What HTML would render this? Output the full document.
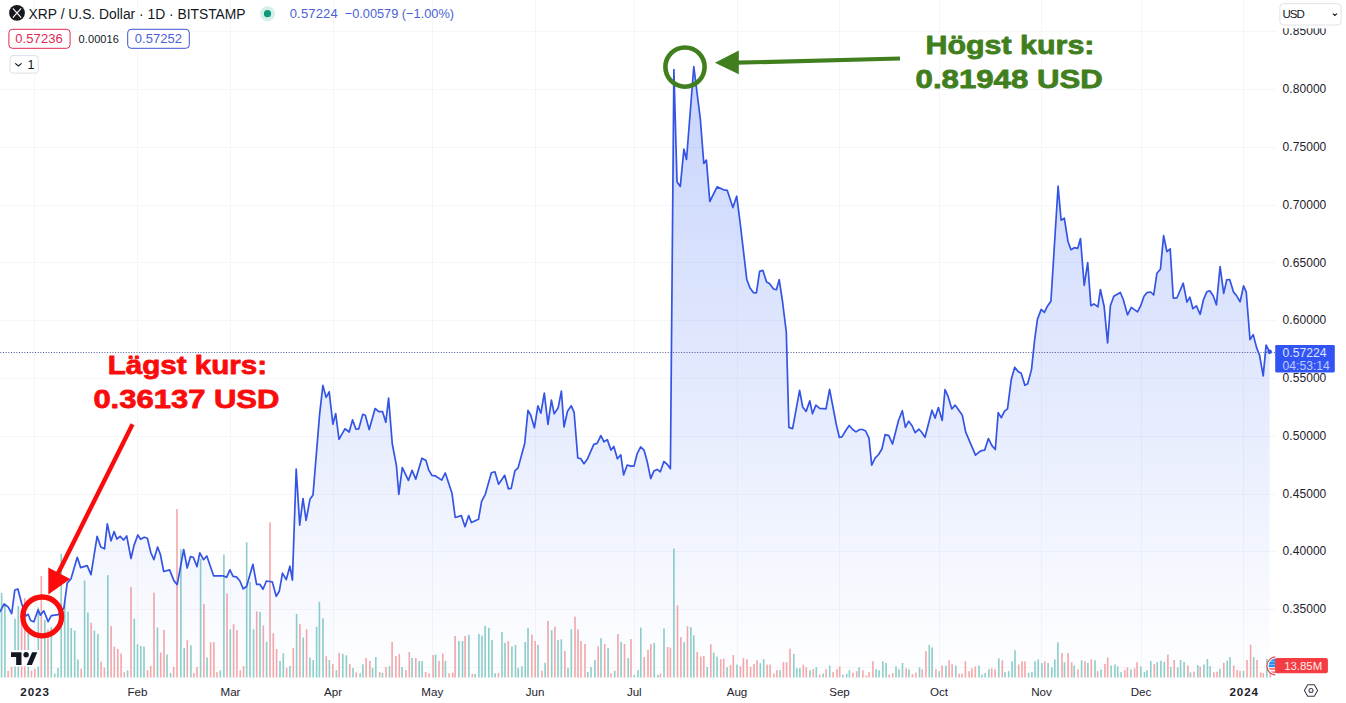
<!DOCTYPE html>
<html><head><meta charset="utf-8"><title>XRP / U.S. Dollar</title>
<style>
html,body{margin:0;padding:0;background:#fff;}
body{width:1346px;height:703px;overflow:hidden;position:relative;font-family:"Liberation Sans",sans-serif;}
svg{position:absolute;left:0;top:0;}
svg text{font-family:"Liberation Sans",sans-serif;}
</style></head><body>
<svg width="1346" height="703" viewBox="0 0 1346 703">
<defs>
<linearGradient id="ag" gradientUnits="userSpaceOnUse" x1="0" y1="60" x2="0" y2="681">
<stop offset="0" stop-color="#2c5cf4" stop-opacity="0.27"/>
<stop offset="1" stop-color="#2c5cf4" stop-opacity="0.0"/>
</linearGradient>
</defs>
<rect width="1346" height="703" fill="#fff"/>
<g stroke="#f5f6fa" stroke-width="1" shape-rendering="crispEdges">
<line x1="34.6" y1="0" x2="34.6" y2="677.5"/>
<line x1="137.5" y1="0" x2="137.5" y2="677.5"/>
<line x1="230.5" y1="0" x2="230.5" y2="677.5"/>
<line x1="333" y1="0" x2="333" y2="677.5"/>
<line x1="432.3" y1="0" x2="432.3" y2="677.5"/>
<line x1="535" y1="0" x2="535" y2="677.5"/>
<line x1="634.3" y1="0" x2="634.3" y2="677.5"/>
<line x1="737" y1="0" x2="737" y2="677.5"/>
<line x1="839.5" y1="0" x2="839.5" y2="677.5"/>
<line x1="939" y1="0" x2="939" y2="677.5"/>
<line x1="1041.5" y1="0" x2="1041.5" y2="677.5"/>
<line x1="1141" y1="0" x2="1141" y2="677.5"/>
<line x1="1243.7" y1="0" x2="1243.7" y2="677.5"/>
<line x1="0" y1="31.8" x2="1276" y2="31.8"/>
<line x1="0" y1="89.6" x2="1276" y2="89.6"/>
<line x1="0" y1="147.3" x2="1276" y2="147.3"/>
<line x1="0" y1="205.1" x2="1276" y2="205.1"/>
<line x1="0" y1="262.9" x2="1276" y2="262.9"/>
<line x1="0" y1="320.6" x2="1276" y2="320.6"/>
<line x1="0" y1="378.4" x2="1276" y2="378.4"/>
<line x1="0" y1="436.2" x2="1276" y2="436.2"/>
<line x1="0" y1="494.0" x2="1276" y2="494.0"/>
<line x1="0" y1="551.7" x2="1276" y2="551.7"/>
<line x1="0" y1="609.5" x2="1276" y2="609.5"/>
<line x1="0" y1="667.3" x2="1276" y2="667.3"/>
</g>
<g>
<rect x="0.78" y="592.9" width="1.64" height="84.6" fill="#8fcfca"/>
<rect x="4.08" y="603.8" width="1.64" height="73.7" fill="#8fcfca"/>
<rect x="7.28" y="671.0" width="1.64" height="6.5" fill="#f4a9ab"/>
<rect x="10.78" y="666.5" width="1.64" height="11.0" fill="#f4a9ab"/>
<rect x="14.18" y="618.8" width="1.64" height="58.7" fill="#8fcfca"/>
<rect x="17.48" y="606.1" width="1.64" height="71.4" fill="#8fcfca"/>
<rect x="20.78" y="621.5" width="1.64" height="56.0" fill="#f4a9ab"/>
<rect x="23.98" y="598.0" width="1.64" height="79.5" fill="#f4a9ab"/>
<rect x="27.48" y="632.7" width="1.64" height="44.8" fill="#8fcfca"/>
<rect x="30.68" y="670.5" width="1.64" height="7.0" fill="#f4a9ab"/>
<rect x="33.98" y="668.7" width="1.64" height="8.8" fill="#f4a9ab"/>
<rect x="37.48" y="607.5" width="1.64" height="70.0" fill="#8fcfca"/>
<rect x="40.48" y="575.9" width="1.64" height="101.6" fill="#f4a9ab"/>
<rect x="43.98" y="620.0" width="1.64" height="57.5" fill="#8fcfca"/>
<rect x="47.18" y="629.5" width="1.64" height="48.0" fill="#f4a9ab"/>
<rect x="50.48" y="627.0" width="1.64" height="50.5" fill="#8fcfca"/>
<rect x="53.88" y="673.5" width="1.64" height="4.0" fill="#8fcfca"/>
<rect x="57.18" y="668.0" width="1.64" height="9.5" fill="#8fcfca"/>
<rect x="60.38" y="553.9" width="1.64" height="123.6" fill="#8fcfca"/>
<rect x="63.88" y="602.5" width="1.64" height="75.0" fill="#8fcfca"/>
<rect x="67.18" y="611.5" width="1.64" height="66.0" fill="#8fcfca"/>
<rect x="70.38" y="628.1" width="1.64" height="49.4" fill="#8fcfca"/>
<rect x="73.88" y="630.5" width="1.64" height="47.0" fill="#8fcfca"/>
<rect x="77.08" y="659.5" width="1.64" height="18.0" fill="#8fcfca"/>
<rect x="80.38" y="668.7" width="1.64" height="8.8" fill="#f4a9ab"/>
<rect x="83.78" y="580.5" width="1.64" height="97.0" fill="#8fcfca"/>
<rect x="87.08" y="612.5" width="1.64" height="65.0" fill="#8fcfca"/>
<rect x="90.28" y="622.8" width="1.64" height="54.7" fill="#f4a9ab"/>
<rect x="93.58" y="630.5" width="1.64" height="47.0" fill="#8fcfca"/>
<rect x="97.08" y="633.9" width="1.64" height="43.6" fill="#8fcfca"/>
<rect x="100.28" y="661.7" width="1.64" height="15.8" fill="#f4a9ab"/>
<rect x="103.58" y="667.5" width="1.64" height="10.0" fill="#f4a9ab"/>
<rect x="106.98" y="575.2" width="1.64" height="102.3" fill="#8fcfca"/>
<rect x="110.28" y="626.2" width="1.64" height="51.3" fill="#f4a9ab"/>
<rect x="113.48" y="646.7" width="1.64" height="30.8" fill="#f4a9ab"/>
<rect x="116.98" y="649.0" width="1.64" height="28.5" fill="#f4a9ab"/>
<rect x="120.28" y="653.6" width="1.64" height="23.9" fill="#f4a9ab"/>
<rect x="123.48" y="672.2" width="1.64" height="5.3" fill="#f4a9ab"/>
<rect x="126.78" y="670.3" width="1.64" height="7.2" fill="#8fcfca"/>
<rect x="130.18" y="587.1" width="1.64" height="90.4" fill="#f4a9ab"/>
<rect x="133.48" y="618.8" width="1.64" height="58.7" fill="#8fcfca"/>
<rect x="136.68" y="644.3" width="1.64" height="33.2" fill="#8fcfca"/>
<rect x="139.98" y="646.0" width="1.64" height="31.5" fill="#8fcfca"/>
<rect x="143.18" y="646.7" width="1.64" height="30.8" fill="#8fcfca"/>
<rect x="146.68" y="670.3" width="1.64" height="7.2" fill="#f4a9ab"/>
<rect x="149.88" y="665.7" width="1.64" height="11.8" fill="#f4a9ab"/>
<rect x="153.18" y="592.6" width="1.64" height="84.9" fill="#f4a9ab"/>
<rect x="156.68" y="627.6" width="1.64" height="49.9" fill="#8fcfca"/>
<rect x="159.88" y="652.5" width="1.64" height="25.0" fill="#f4a9ab"/>
<rect x="163.18" y="630.0" width="1.64" height="47.5" fill="#f4a9ab"/>
<rect x="166.18" y="654.5" width="1.64" height="23.0" fill="#8fcfca"/>
<rect x="169.78" y="672.9" width="1.64" height="4.6" fill="#8fcfca"/>
<rect x="172.88" y="667.0" width="1.64" height="10.5" fill="#f4a9ab"/>
<rect x="176.18" y="509.0" width="1.64" height="168.5" fill="#f4a9ab"/>
<rect x="180.08" y="549.2" width="1.64" height="128.3" fill="#8fcfca"/>
<rect x="183.38" y="648.1" width="1.64" height="29.4" fill="#8fcfca"/>
<rect x="186.48" y="640.1" width="1.64" height="37.4" fill="#f4a9ab"/>
<rect x="190.08" y="645.2" width="1.64" height="32.3" fill="#8fcfca"/>
<rect x="193.08" y="672.9" width="1.64" height="4.6" fill="#f4a9ab"/>
<rect x="196.18" y="667.0" width="1.64" height="10.5" fill="#f4a9ab"/>
<rect x="199.78" y="559.0" width="1.64" height="118.5" fill="#8fcfca"/>
<rect x="203.08" y="603.8" width="1.64" height="73.7" fill="#f4a9ab"/>
<rect x="206.18" y="657.5" width="1.64" height="20.0" fill="#8fcfca"/>
<rect x="209.78" y="642.2" width="1.64" height="35.3" fill="#f4a9ab"/>
<rect x="213.08" y="642.2" width="1.64" height="35.3" fill="#f4a9ab"/>
<rect x="216.18" y="672.1" width="1.64" height="5.4" fill="#f4a9ab"/>
<rect x="219.48" y="670.3" width="1.64" height="7.2" fill="#8fcfca"/>
<rect x="223.08" y="554.6" width="1.64" height="122.9" fill="#8fcfca"/>
<rect x="226.18" y="593.5" width="1.64" height="84.0" fill="#f4a9ab"/>
<rect x="229.48" y="629.4" width="1.64" height="48.1" fill="#8fcfca"/>
<rect x="232.78" y="624.2" width="1.64" height="53.3" fill="#f4a9ab"/>
<rect x="236.08" y="630.1" width="1.64" height="47.4" fill="#f4a9ab"/>
<rect x="239.48" y="670.3" width="1.64" height="7.2" fill="#f4a9ab"/>
<rect x="242.78" y="666.0" width="1.64" height="11.5" fill="#f4a9ab"/>
<rect x="245.88" y="542.3" width="1.64" height="135.2" fill="#8fcfca"/>
<rect x="249.18" y="582.0" width="1.64" height="95.5" fill="#8fcfca"/>
<rect x="252.78" y="629.4" width="1.64" height="48.1" fill="#8fcfca"/>
<rect x="255.88" y="611.4" width="1.64" height="66.1" fill="#f4a9ab"/>
<rect x="259.18" y="612.0" width="1.64" height="65.5" fill="#8fcfca"/>
<rect x="262.48" y="625.5" width="1.64" height="52.0" fill="#f4a9ab"/>
<rect x="265.78" y="641.7" width="1.64" height="35.8" fill="#8fcfca"/>
<rect x="269.18" y="522.4" width="1.64" height="155.1" fill="#f4a9ab"/>
<rect x="272.48" y="633.2" width="1.64" height="44.3" fill="#f4a9ab"/>
<rect x="275.78" y="649.1" width="1.64" height="28.4" fill="#f4a9ab"/>
<rect x="279.18" y="660.9" width="1.64" height="16.6" fill="#8fcfca"/>
<rect x="282.48" y="653.2" width="1.64" height="24.3" fill="#8fcfca"/>
<rect x="285.78" y="667.8" width="1.64" height="9.7" fill="#f4a9ab"/>
<rect x="289.08" y="666.0" width="1.64" height="11.5" fill="#8fcfca"/>
<rect x="292.48" y="648.1" width="1.64" height="29.4" fill="#f4a9ab"/>
<rect x="295.78" y="614.0" width="1.64" height="63.5" fill="#8fcfca"/>
<rect x="299.08" y="624.2" width="1.64" height="53.3" fill="#f4a9ab"/>
<rect x="302.38" y="637.6" width="1.64" height="39.9" fill="#8fcfca"/>
<rect x="305.78" y="629.4" width="1.64" height="48.1" fill="#f4a9ab"/>
<rect x="309.08" y="657.5" width="1.64" height="20.0" fill="#8fcfca"/>
<rect x="312.38" y="660.1" width="1.64" height="17.4" fill="#8fcfca"/>
<rect x="315.78" y="626.8" width="1.64" height="50.7" fill="#8fcfca"/>
<rect x="318.58" y="601.7" width="1.64" height="75.8" fill="#8fcfca"/>
<rect x="322.18" y="618.4" width="1.64" height="59.1" fill="#8fcfca"/>
<rect x="325.48" y="656.3" width="1.64" height="21.2" fill="#f4a9ab"/>
<rect x="328.58" y="660.1" width="1.64" height="17.4" fill="#8fcfca"/>
<rect x="331.98" y="663.8" width="1.64" height="13.7" fill="#f4a9ab"/>
<rect x="335.58" y="670.2" width="1.64" height="7.3" fill="#8fcfca"/>
<rect x="338.38" y="652.8" width="1.64" height="24.7" fill="#f4a9ab"/>
<rect x="341.98" y="653.8" width="1.64" height="23.7" fill="#8fcfca"/>
<rect x="345.58" y="655.3" width="1.64" height="22.2" fill="#8fcfca"/>
<rect x="348.98" y="663.8" width="1.64" height="13.7" fill="#f4a9ab"/>
<rect x="352.18" y="667.9" width="1.64" height="9.6" fill="#8fcfca"/>
<rect x="355.38" y="672.4" width="1.64" height="5.1" fill="#f4a9ab"/>
<rect x="359.28" y="673.3" width="1.64" height="4.2" fill="#8fcfca"/>
<rect x="362.08" y="664.3" width="1.64" height="13.2" fill="#8fcfca"/>
<rect x="365.28" y="657.9" width="1.64" height="19.6" fill="#f4a9ab"/>
<rect x="369.08" y="660.9" width="1.64" height="16.6" fill="#f4a9ab"/>
<rect x="371.78" y="667.9" width="1.64" height="9.6" fill="#8fcfca"/>
<rect x="374.98" y="657.0" width="1.64" height="20.5" fill="#8fcfca"/>
<rect x="378.88" y="672.0" width="1.64" height="5.5" fill="#f4a9ab"/>
<rect x="381.68" y="672.8" width="1.64" height="4.7" fill="#8fcfca"/>
<rect x="385.18" y="667.0" width="1.64" height="10.5" fill="#f4a9ab"/>
<rect x="388.68" y="666.2" width="1.64" height="11.3" fill="#8fcfca"/>
<rect x="391.28" y="641.9" width="1.64" height="35.6" fill="#f4a9ab"/>
<rect x="395.08" y="656.1" width="1.64" height="21.4" fill="#f4a9ab"/>
<rect x="398.48" y="653.8" width="1.64" height="23.7" fill="#f4a9ab"/>
<rect x="401.28" y="667.0" width="1.64" height="10.5" fill="#8fcfca"/>
<rect x="405.08" y="670.1" width="1.64" height="7.4" fill="#f4a9ab"/>
<rect x="408.48" y="652.1" width="1.64" height="25.4" fill="#f4a9ab"/>
<rect x="411.28" y="658.0" width="1.64" height="19.5" fill="#8fcfca"/>
<rect x="414.98" y="658.0" width="1.64" height="19.5" fill="#f4a9ab"/>
<rect x="418.38" y="660.9" width="1.64" height="16.6" fill="#8fcfca"/>
<rect x="421.28" y="660.9" width="1.64" height="16.6" fill="#8fcfca"/>
<rect x="424.78" y="672.0" width="1.64" height="5.5" fill="#f4a9ab"/>
<rect x="428.18" y="673.3" width="1.64" height="4.2" fill="#f4a9ab"/>
<rect x="432.28" y="655.1" width="1.64" height="22.4" fill="#f4a9ab"/>
<rect x="434.78" y="654.5" width="1.64" height="23.0" fill="#8fcfca"/>
<rect x="438.18" y="660.9" width="1.64" height="16.6" fill="#f4a9ab"/>
<rect x="441.98" y="653.6" width="1.64" height="23.9" fill="#f4a9ab"/>
<rect x="444.58" y="660.9" width="1.64" height="16.6" fill="#8fcfca"/>
<rect x="448.28" y="673.3" width="1.64" height="4.2" fill="#f4a9ab"/>
<rect x="451.88" y="672.6" width="1.64" height="4.9" fill="#f4a9ab"/>
<rect x="454.28" y="635.9" width="1.64" height="41.6" fill="#f4a9ab"/>
<rect x="458.08" y="641.0" width="1.64" height="36.5" fill="#8fcfca"/>
<rect x="461.68" y="641.0" width="1.64" height="36.5" fill="#8fcfca"/>
<rect x="464.28" y="635.9" width="1.64" height="41.6" fill="#f4a9ab"/>
<rect x="468.08" y="634.9" width="1.64" height="42.6" fill="#8fcfca"/>
<rect x="471.48" y="674.0" width="1.64" height="3.5" fill="#f4a9ab"/>
<rect x="474.28" y="674.0" width="1.64" height="3.5" fill="#8fcfca"/>
<rect x="478.08" y="634.0" width="1.64" height="43.5" fill="#8fcfca"/>
<rect x="481.18" y="635.6" width="1.64" height="41.9" fill="#8fcfca"/>
<rect x="484.28" y="625.9" width="1.64" height="51.6" fill="#8fcfca"/>
<rect x="487.98" y="627.8" width="1.64" height="49.7" fill="#8fcfca"/>
<rect x="491.18" y="640.0" width="1.64" height="37.5" fill="#8fcfca"/>
<rect x="494.38" y="673.3" width="1.64" height="4.2" fill="#8fcfca"/>
<rect x="497.68" y="672.8" width="1.64" height="4.7" fill="#f4a9ab"/>
<rect x="501.18" y="632.0" width="1.64" height="45.5" fill="#8fcfca"/>
<rect x="504.18" y="642.9" width="1.64" height="34.6" fill="#8fcfca"/>
<rect x="507.48" y="641.0" width="1.64" height="36.5" fill="#f4a9ab"/>
<rect x="511.08" y="646.5" width="1.64" height="31.0" fill="#8fcfca"/>
<rect x="514.68" y="644.8" width="1.64" height="32.7" fill="#8fcfca"/>
<rect x="517.38" y="667.9" width="1.64" height="9.6" fill="#8fcfca"/>
<rect x="521.08" y="666.2" width="1.64" height="11.3" fill="#8fcfca"/>
<rect x="524.38" y="642.0" width="1.64" height="35.5" fill="#8fcfca"/>
<rect x="527.18" y="627.8" width="1.64" height="49.7" fill="#8fcfca"/>
<rect x="531.08" y="634.6" width="1.64" height="42.9" fill="#f4a9ab"/>
<rect x="534.38" y="641.0" width="1.64" height="36.5" fill="#f4a9ab"/>
<rect x="537.18" y="644.8" width="1.64" height="32.7" fill="#8fcfca"/>
<rect x="541.08" y="670.7" width="1.64" height="6.8" fill="#f4a9ab"/>
<rect x="544.28" y="662.8" width="1.64" height="14.7" fill="#8fcfca"/>
<rect x="547.18" y="620.9" width="1.64" height="56.6" fill="#f4a9ab"/>
<rect x="550.88" y="630.1" width="1.64" height="47.4" fill="#8fcfca"/>
<rect x="554.08" y="626.7" width="1.64" height="50.8" fill="#f4a9ab"/>
<rect x="557.18" y="640.0" width="1.64" height="37.5" fill="#8fcfca"/>
<rect x="560.48" y="639.3" width="1.64" height="38.2" fill="#8fcfca"/>
<rect x="564.08" y="651.0" width="1.64" height="26.5" fill="#f4a9ab"/>
<rect x="567.18" y="667.9" width="1.64" height="9.6" fill="#8fcfca"/>
<rect x="570.48" y="629.2" width="1.64" height="48.3" fill="#8fcfca"/>
<rect x="574.18" y="616.7" width="1.64" height="60.8" fill="#f4a9ab"/>
<rect x="577.18" y="629.5" width="1.64" height="48.0" fill="#f4a9ab"/>
<rect x="580.18" y="641.0" width="1.64" height="36.5" fill="#f4a9ab"/>
<rect x="584.18" y="644.0" width="1.64" height="33.5" fill="#f4a9ab"/>
<rect x="586.98" y="672.0" width="1.64" height="5.5" fill="#8fcfca"/>
<rect x="590.18" y="667.0" width="1.64" height="10.5" fill="#8fcfca"/>
<rect x="594.08" y="660.0" width="1.64" height="17.5" fill="#8fcfca"/>
<rect x="597.38" y="646.4" width="1.64" height="31.1" fill="#f4a9ab"/>
<rect x="600.18" y="638.2" width="1.64" height="39.3" fill="#8fcfca"/>
<rect x="603.88" y="644.0" width="1.64" height="33.5" fill="#f4a9ab"/>
<rect x="607.28" y="648.1" width="1.64" height="29.4" fill="#8fcfca"/>
<rect x="610.18" y="673.3" width="1.64" height="4.2" fill="#f4a9ab"/>
<rect x="613.88" y="670.8" width="1.64" height="6.7" fill="#8fcfca"/>
<rect x="617.18" y="634.0" width="1.64" height="43.5" fill="#f4a9ab"/>
<rect x="620.28" y="642.0" width="1.64" height="35.5" fill="#8fcfca"/>
<rect x="623.68" y="644.0" width="1.64" height="33.5" fill="#f4a9ab"/>
<rect x="627.38" y="658.0" width="1.64" height="19.5" fill="#8fcfca"/>
<rect x="630.18" y="639.1" width="1.64" height="38.4" fill="#f4a9ab"/>
<rect x="633.48" y="674.9" width="1.64" height="2.6" fill="#8fcfca"/>
<rect x="637.18" y="670.1" width="1.64" height="7.4" fill="#8fcfca"/>
<rect x="639.98" y="627.6" width="1.64" height="49.9" fill="#8fcfca"/>
<rect x="643.38" y="657.0" width="1.64" height="20.5" fill="#f4a9ab"/>
<rect x="647.18" y="650.0" width="1.64" height="27.5" fill="#f4a9ab"/>
<rect x="649.98" y="644.0" width="1.64" height="33.5" fill="#f4a9ab"/>
<rect x="653.38" y="642.9" width="1.64" height="34.6" fill="#8fcfca"/>
<rect x="657.18" y="674.9" width="1.64" height="2.6" fill="#8fcfca"/>
<rect x="659.68" y="673.5" width="1.64" height="4.0" fill="#f4a9ab"/>
<rect x="663.18" y="628.5" width="1.64" height="49.0" fill="#8fcfca"/>
<rect x="666.78" y="647.0" width="1.64" height="30.5" fill="#f4a9ab"/>
<rect x="669.58" y="647.6" width="1.64" height="29.9" fill="#f4a9ab"/>
<rect x="673.08" y="548.5" width="1.64" height="129.0" fill="#8fcfca"/>
<rect x="676.68" y="605.5" width="1.64" height="72.0" fill="#f4a9ab"/>
<rect x="680.08" y="637.1" width="1.64" height="40.4" fill="#f4a9ab"/>
<rect x="683.28" y="642.3" width="1.64" height="35.2" fill="#8fcfca"/>
<rect x="686.68" y="626.3" width="1.64" height="51.2" fill="#f4a9ab"/>
<rect x="690.08" y="627.1" width="1.64" height="50.4" fill="#8fcfca"/>
<rect x="692.98" y="635.3" width="1.64" height="42.2" fill="#8fcfca"/>
<rect x="696.38" y="652.2" width="1.64" height="25.3" fill="#f4a9ab"/>
<rect x="699.98" y="656.6" width="1.64" height="20.9" fill="#f4a9ab"/>
<rect x="702.98" y="656.0" width="1.64" height="21.5" fill="#f4a9ab"/>
<rect x="706.38" y="667.1" width="1.64" height="10.4" fill="#8fcfca"/>
<rect x="709.98" y="644.3" width="1.64" height="33.2" fill="#f4a9ab"/>
<rect x="712.88" y="652.6" width="1.64" height="24.9" fill="#8fcfca"/>
<rect x="716.28" y="656.6" width="1.64" height="20.9" fill="#8fcfca"/>
<rect x="719.88" y="659.2" width="1.64" height="18.3" fill="#f4a9ab"/>
<rect x="722.88" y="658.6" width="1.64" height="18.9" fill="#f4a9ab"/>
<rect x="726.28" y="667.1" width="1.64" height="10.4" fill="#8fcfca"/>
<rect x="729.68" y="665.0" width="1.64" height="12.5" fill="#f4a9ab"/>
<rect x="732.48" y="655.0" width="1.64" height="22.5" fill="#f4a9ab"/>
<rect x="736.18" y="664.6" width="1.64" height="12.9" fill="#8fcfca"/>
<rect x="739.58" y="666.2" width="1.64" height="11.3" fill="#f4a9ab"/>
<rect x="742.58" y="658.2" width="1.64" height="19.3" fill="#f4a9ab"/>
<rect x="746.18" y="659.2" width="1.64" height="18.3" fill="#f4a9ab"/>
<rect x="749.78" y="666.6" width="1.64" height="10.9" fill="#f4a9ab"/>
<rect x="753.18" y="664.0" width="1.64" height="13.5" fill="#f4a9ab"/>
<rect x="756.18" y="660.2" width="1.64" height="17.3" fill="#f4a9ab"/>
<rect x="759.48" y="663.2" width="1.64" height="14.3" fill="#8fcfca"/>
<rect x="762.88" y="659.2" width="1.64" height="18.3" fill="#8fcfca"/>
<rect x="766.28" y="664.6" width="1.64" height="12.9" fill="#f4a9ab"/>
<rect x="769.28" y="664.6" width="1.64" height="12.9" fill="#f4a9ab"/>
<rect x="773.08" y="673.5" width="1.64" height="4.0" fill="#f4a9ab"/>
<rect x="776.08" y="670.1" width="1.64" height="7.4" fill="#f4a9ab"/>
<rect x="779.18" y="670.1" width="1.64" height="7.4" fill="#8fcfca"/>
<rect x="782.58" y="662.2" width="1.64" height="15.3" fill="#f4a9ab"/>
<rect x="785.78" y="662.2" width="1.64" height="15.3" fill="#f4a9ab"/>
<rect x="789.18" y="648.6" width="1.64" height="28.9" fill="#f4a9ab"/>
<rect x="792.98" y="654.0" width="1.64" height="23.5" fill="#8fcfca"/>
<rect x="795.98" y="668.1" width="1.64" height="9.4" fill="#8fcfca"/>
<rect x="799.08" y="668.1" width="1.64" height="9.4" fill="#8fcfca"/>
<rect x="802.48" y="664.6" width="1.64" height="12.9" fill="#f4a9ab"/>
<rect x="805.48" y="667.1" width="1.64" height="10.4" fill="#f4a9ab"/>
<rect x="809.08" y="670.1" width="1.64" height="7.4" fill="#8fcfca"/>
<rect x="812.48" y="669.1" width="1.64" height="8.4" fill="#f4a9ab"/>
<rect x="815.48" y="667.1" width="1.64" height="10.4" fill="#8fcfca"/>
<rect x="818.98" y="674.5" width="1.64" height="3.0" fill="#f4a9ab"/>
<rect x="822.38" y="673.5" width="1.64" height="4.0" fill="#8fcfca"/>
<rect x="825.28" y="669.2" width="1.64" height="8.3" fill="#f4a9ab"/>
<rect x="828.88" y="665.5" width="1.64" height="12.0" fill="#8fcfca"/>
<rect x="832.28" y="672.1" width="1.64" height="5.4" fill="#f4a9ab"/>
<rect x="836.18" y="669.2" width="1.64" height="8.3" fill="#f4a9ab"/>
<rect x="838.88" y="666.4" width="1.64" height="11.1" fill="#f4a9ab"/>
<rect x="842.08" y="674.6" width="1.64" height="2.9" fill="#8fcfca"/>
<rect x="845.88" y="673.7" width="1.64" height="3.8" fill="#8fcfca"/>
<rect x="848.58" y="670.2" width="1.64" height="7.3" fill="#8fcfca"/>
<rect x="852.18" y="672.7" width="1.64" height="4.8" fill="#f4a9ab"/>
<rect x="855.88" y="671.2" width="1.64" height="6.3" fill="#f4a9ab"/>
<rect x="858.28" y="667.3" width="1.64" height="10.2" fill="#8fcfca"/>
<rect x="862.08" y="670.2" width="1.64" height="7.3" fill="#f4a9ab"/>
<rect x="865.58" y="675.5" width="1.64" height="2.0" fill="#f4a9ab"/>
<rect x="868.18" y="672.1" width="1.64" height="5.4" fill="#f4a9ab"/>
<rect x="872.08" y="661.3" width="1.64" height="16.2" fill="#f4a9ab"/>
<rect x="875.28" y="669.3" width="1.64" height="8.2" fill="#8fcfca"/>
<rect x="878.28" y="670.2" width="1.64" height="7.3" fill="#8fcfca"/>
<rect x="881.98" y="661.3" width="1.64" height="16.2" fill="#8fcfca"/>
<rect x="885.28" y="662.9" width="1.64" height="14.6" fill="#8fcfca"/>
<rect x="888.38" y="674.6" width="1.64" height="2.9" fill="#f4a9ab"/>
<rect x="891.88" y="673.0" width="1.64" height="4.5" fill="#f4a9ab"/>
<rect x="895.18" y="666.4" width="1.64" height="11.1" fill="#8fcfca"/>
<rect x="898.18" y="669.3" width="1.64" height="8.2" fill="#8fcfca"/>
<rect x="901.68" y="663.0" width="1.64" height="14.5" fill="#8fcfca"/>
<rect x="905.28" y="668.3" width="1.64" height="9.2" fill="#f4a9ab"/>
<rect x="908.18" y="669.3" width="1.64" height="8.2" fill="#8fcfca"/>
<rect x="911.58" y="674.0" width="1.64" height="3.5" fill="#f4a9ab"/>
<rect x="915.08" y="672.7" width="1.64" height="4.8" fill="#f4a9ab"/>
<rect x="918.68" y="667.3" width="1.64" height="10.2" fill="#8fcfca"/>
<rect x="921.38" y="669.3" width="1.64" height="8.2" fill="#f4a9ab"/>
<rect x="925.08" y="651.2" width="1.64" height="26.3" fill="#f4a9ab"/>
<rect x="928.48" y="644.9" width="1.64" height="32.6" fill="#8fcfca"/>
<rect x="931.28" y="647.4" width="1.64" height="30.1" fill="#8fcfca"/>
<rect x="935.08" y="669.2" width="1.64" height="8.3" fill="#f4a9ab"/>
<rect x="938.38" y="671.2" width="1.64" height="6.3" fill="#8fcfca"/>
<rect x="941.28" y="665.5" width="1.64" height="12.0" fill="#f4a9ab"/>
<rect x="945.08" y="665.5" width="1.64" height="12.0" fill="#8fcfca"/>
<rect x="948.28" y="660.3" width="1.64" height="17.2" fill="#f4a9ab"/>
<rect x="951.28" y="664.2" width="1.64" height="13.3" fill="#f4a9ab"/>
<rect x="954.98" y="665.5" width="1.64" height="12.0" fill="#8fcfca"/>
<rect x="958.28" y="673.6" width="1.64" height="3.9" fill="#f4a9ab"/>
<rect x="961.18" y="673.6" width="1.64" height="3.9" fill="#f4a9ab"/>
<rect x="964.58" y="661.3" width="1.64" height="16.2" fill="#f4a9ab"/>
<rect x="968.28" y="671.2" width="1.64" height="6.3" fill="#f4a9ab"/>
<rect x="971.08" y="668.3" width="1.64" height="9.2" fill="#f4a9ab"/>
<rect x="974.48" y="666.4" width="1.64" height="11.1" fill="#f4a9ab"/>
<rect x="978.18" y="665.5" width="1.64" height="12.0" fill="#8fcfca"/>
<rect x="981.08" y="674.6" width="1.64" height="2.9" fill="#8fcfca"/>
<rect x="984.28" y="673.0" width="1.64" height="4.5" fill="#8fcfca"/>
<rect x="988.08" y="669.2" width="1.64" height="8.3" fill="#8fcfca"/>
<rect x="990.88" y="668.3" width="1.64" height="9.2" fill="#f4a9ab"/>
<rect x="994.28" y="669.3" width="1.64" height="8.2" fill="#f4a9ab"/>
<rect x="997.98" y="658.4" width="1.64" height="19.1" fill="#8fcfca"/>
<rect x="1001.48" y="660.3" width="1.64" height="17.2" fill="#f4a9ab"/>
<rect x="1004.18" y="672.1" width="1.64" height="5.4" fill="#8fcfca"/>
<rect x="1007.88" y="671.2" width="1.64" height="6.3" fill="#8fcfca"/>
<rect x="1011.28" y="661.3" width="1.64" height="16.2" fill="#8fcfca"/>
<rect x="1014.18" y="650.3" width="1.64" height="27.2" fill="#8fcfca"/>
<rect x="1017.88" y="664.5" width="1.64" height="13.0" fill="#f4a9ab"/>
<rect x="1021.18" y="661.3" width="1.64" height="16.2" fill="#f4a9ab"/>
<rect x="1024.18" y="661.3" width="1.64" height="16.2" fill="#f4a9ab"/>
<rect x="1027.78" y="672.7" width="1.64" height="4.8" fill="#8fcfca"/>
<rect x="1031.08" y="672.1" width="1.64" height="5.4" fill="#8fcfca"/>
<rect x="1034.18" y="661.3" width="1.64" height="16.2" fill="#8fcfca"/>
<rect x="1037.38" y="659.4" width="1.64" height="18.1" fill="#8fcfca"/>
<rect x="1041.08" y="663.0" width="1.64" height="14.5" fill="#8fcfca"/>
<rect x="1043.98" y="661.3" width="1.64" height="16.2" fill="#f4a9ab"/>
<rect x="1047.28" y="663.0" width="1.64" height="14.5" fill="#8fcfca"/>
<rect x="1050.98" y="667.3" width="1.64" height="10.2" fill="#8fcfca"/>
<rect x="1053.98" y="659.4" width="1.64" height="18.1" fill="#8fcfca"/>
<rect x="1057.08" y="642.4" width="1.64" height="35.1" fill="#8fcfca"/>
<rect x="1061.18" y="653.1" width="1.64" height="24.4" fill="#f4a9ab"/>
<rect x="1063.68" y="662.2" width="1.64" height="15.3" fill="#8fcfca"/>
<rect x="1067.28" y="653.1" width="1.64" height="24.4" fill="#f4a9ab"/>
<rect x="1070.88" y="662.2" width="1.64" height="15.3" fill="#f4a9ab"/>
<rect x="1073.38" y="665.5" width="1.64" height="12.0" fill="#8fcfca"/>
<rect x="1077.18" y="669.3" width="1.64" height="8.2" fill="#f4a9ab"/>
<rect x="1080.78" y="660.3" width="1.64" height="17.2" fill="#8fcfca"/>
<rect x="1084.18" y="661.3" width="1.64" height="16.2" fill="#f4a9ab"/>
<rect x="1087.08" y="663.0" width="1.64" height="14.5" fill="#8fcfca"/>
<rect x="1090.48" y="659.4" width="1.64" height="18.1" fill="#f4a9ab"/>
<rect x="1094.18" y="660.3" width="1.64" height="17.2" fill="#8fcfca"/>
<rect x="1096.88" y="671.2" width="1.64" height="6.3" fill="#f4a9ab"/>
<rect x="1100.28" y="669.3" width="1.64" height="8.2" fill="#8fcfca"/>
<rect x="1104.08" y="663.9" width="1.64" height="13.6" fill="#f4a9ab"/>
<rect x="1106.88" y="657.5" width="1.64" height="20.0" fill="#f4a9ab"/>
<rect x="1110.28" y="665.5" width="1.64" height="12.0" fill="#8fcfca"/>
<rect x="1114.08" y="664.5" width="1.64" height="13.0" fill="#8fcfca"/>
<rect x="1116.88" y="666.4" width="1.64" height="11.1" fill="#8fcfca"/>
<rect x="1120.28" y="672.1" width="1.64" height="5.4" fill="#8fcfca"/>
<rect x="1123.98" y="670.2" width="1.64" height="7.3" fill="#f4a9ab"/>
<rect x="1126.58" y="667.3" width="1.64" height="10.2" fill="#f4a9ab"/>
<rect x="1130.08" y="669.3" width="1.64" height="8.2" fill="#8fcfca"/>
<rect x="1133.78" y="668.3" width="1.64" height="9.2" fill="#f4a9ab"/>
<rect x="1136.28" y="662.2" width="1.64" height="15.3" fill="#f4a9ab"/>
<rect x="1140.08" y="666.4" width="1.64" height="11.1" fill="#8fcfca"/>
<rect x="1143.68" y="672.1" width="1.64" height="5.4" fill="#8fcfca"/>
<rect x="1146.18" y="670.2" width="1.64" height="7.3" fill="#8fcfca"/>
<rect x="1149.98" y="661.0" width="1.64" height="16.5" fill="#8fcfca"/>
<rect x="1153.48" y="664.0" width="1.64" height="13.5" fill="#f4a9ab"/>
<rect x="1156.38" y="662.2" width="1.64" height="15.3" fill="#8fcfca"/>
<rect x="1160.08" y="660.8" width="1.64" height="16.7" fill="#8fcfca"/>
<rect x="1163.48" y="661.9" width="1.64" height="15.6" fill="#8fcfca"/>
<rect x="1167.08" y="654.5" width="1.64" height="23.0" fill="#f4a9ab"/>
<rect x="1169.98" y="667.0" width="1.64" height="10.5" fill="#8fcfca"/>
<rect x="1173.38" y="660.0" width="1.64" height="17.5" fill="#f4a9ab"/>
<rect x="1176.88" y="667.3" width="1.64" height="10.2" fill="#8fcfca"/>
<rect x="1179.78" y="660.0" width="1.64" height="17.5" fill="#8fcfca"/>
<rect x="1183.28" y="661.9" width="1.64" height="15.6" fill="#8fcfca"/>
<rect x="1187.08" y="665.4" width="1.64" height="12.1" fill="#f4a9ab"/>
<rect x="1189.68" y="672.4" width="1.64" height="5.1" fill="#8fcfca"/>
<rect x="1193.18" y="671.7" width="1.64" height="5.8" fill="#f4a9ab"/>
<rect x="1196.98" y="665.1" width="1.64" height="12.4" fill="#8fcfca"/>
<rect x="1199.38" y="666.6" width="1.64" height="10.9" fill="#f4a9ab"/>
<rect x="1203.08" y="664.4" width="1.64" height="13.1" fill="#8fcfca"/>
<rect x="1206.58" y="659.0" width="1.64" height="18.5" fill="#8fcfca"/>
<rect x="1209.28" y="666.1" width="1.64" height="11.4" fill="#8fcfca"/>
<rect x="1212.98" y="672.1" width="1.64" height="5.4" fill="#f4a9ab"/>
<rect x="1216.18" y="671.7" width="1.64" height="5.8" fill="#f4a9ab"/>
<rect x="1219.08" y="668.8" width="1.64" height="8.7" fill="#8fcfca"/>
<rect x="1222.98" y="662.6" width="1.64" height="14.9" fill="#f4a9ab"/>
<rect x="1226.38" y="660.8" width="1.64" height="16.7" fill="#8fcfca"/>
<rect x="1229.18" y="657.1" width="1.64" height="20.4" fill="#8fcfca"/>
<rect x="1232.88" y="665.4" width="1.64" height="12.1" fill="#f4a9ab"/>
<rect x="1236.28" y="669.8" width="1.64" height="7.7" fill="#f4a9ab"/>
<rect x="1239.18" y="670.9" width="1.64" height="6.6" fill="#f4a9ab"/>
<rect x="1242.68" y="670.9" width="1.64" height="6.6" fill="#8fcfca"/>
<rect x="1246.18" y="660.0" width="1.64" height="17.5" fill="#f4a9ab"/>
<rect x="1249.78" y="644.7" width="1.64" height="32.8" fill="#f4a9ab"/>
<rect x="1252.88" y="657.1" width="1.64" height="20.4" fill="#8fcfca"/>
<rect x="1256.18" y="660.0" width="1.64" height="17.5" fill="#f4a9ab"/>
<rect x="1259.88" y="672.4" width="1.64" height="5.1" fill="#f4a9ab"/>
<rect x="1262.48" y="673.1" width="1.64" height="4.4" fill="#f4a9ab"/>
<rect x="1266.08" y="659.0" width="1.64" height="18.5" fill="#8fcfca"/>
<rect x="1269.48" y="664.5" width="1.64" height="13.0" fill="#f4a9ab"/>
</g>
<path d="M0.0,611.7 L4.1,604.0 L8.3,607.1 L11.7,613.6 L14.8,590.0 L17.9,589.0 L21.5,603.0 L25.7,616.0 L28.1,614.3 L30.6,620.5 L33.9,621.8 L38.1,609.8 L40.4,615.1 L43.8,610.8 L48.1,621.6 L51.3,615.7 L58.2,614.6 L63.9,608.0 L67.2,583.1 L71.0,578.8 L77.3,557.3 L80.6,567.6 L87.2,565.6 L91.0,574.7 L97.1,536.3 L100.8,547.0 L104.5,548.8 L107.3,523.9 L111.0,540.9 L114.1,531.6 L116.9,539.0 L120.2,536.3 L123.6,540.0 L126.7,535.9 L131.0,558.5 L134.1,545.1 L137.8,535.0 L140.6,539.2 L144.3,537.2 L147.4,538.3 L150.8,552.5 L153.9,559.6 L157.6,547.0 L160.4,554.5 L163.7,571.5 L169.6,569.9 L173.9,580.6 L177.2,584.7 L183.7,549.5 L187.2,568.0 L190.5,556.6 L193.3,557.3 L197.0,566.6 L199.8,552.9 L203.5,559.7 L206.8,556.0 L213.6,575.8 L222.9,575.8 L226.6,577.3 L229.9,569.9 L233.1,576.4 L236.4,576.9 L239.9,581.0 L243.2,588.8 L246.6,586.5 L252.9,564.3 L256.6,584.3 L259.9,584.3 L263.0,589.3 L266.4,581.0 L272.3,581.9 L276.2,596.3 L279.3,591.2 L282.5,573.2 L286.2,579.7 L289.9,566.2 L292.4,580.1 L296.2,469.0 L299.7,525.1 L303.0,498.5 L306.1,520.3 L310.0,499.2 L313.0,495.0 L319.6,414.4 L322.9,385.4 L326.1,397.4 L329.2,391.8 L332.9,424.2 L335.7,413.5 L339.0,439.4 L344.9,428.8 L349.2,432.0 L352.5,419.9 L356.0,429.2 L358.8,428.8 L362.7,414.4 L365.3,415.3 L369.2,429.6 L375.1,408.5 L378.8,411.6 L382.5,411.6 L385.8,422.3 L388.6,398.1 L392.3,444.0 L396.4,465.3 L398.8,494.3 L402.3,467.7 L408.4,480.4 L412.1,470.4 L415.8,479.1 L421.9,458.2 L426.0,460.6 L428.7,469.9 L431.9,475.4 L435.2,475.8 L441.7,480.1 L445.3,472.9 L452.0,493.2 L455.2,517.5 L461.3,515.6 L465.0,526.7 L468.7,515.6 L471.4,522.5 L478.5,519.3 L481.6,501.4 L485.3,494.3 L491.4,472.7 L494.9,471.8 L498.6,484.2 L504.7,475.3 L508.4,488.8 L511.2,488.4 L514.9,470.8 L518.1,467.9 L524.7,443.5 L528.0,410.4 L530.7,415.0 L534.4,427.8 L537.9,405.8 L540.9,413.2 L544.3,393.2 L548.0,424.3 L551.4,400.1 L554.2,413.8 L558.1,408.0 L561.4,391.1 L564.0,427.0 L567.5,411.2 L571.3,405.8 L574.1,412.3 L577.8,458.0 L580.8,458.7 L584.0,463.7 L587.6,458.7 L593.8,444.4 L597.1,443.4 L600.9,435.6 L604.0,441.8 L607.3,439.6 L611.0,450.1 L613.8,446.5 L617.4,458.7 L620.8,454.8 L623.6,475.0 L627.2,465.0 L630.7,466.1 L634.0,466.1 L637.3,453.3 L640.7,446.9 L644.0,450.1 L647.2,461.5 L650.7,478.7 L653.9,471.1 L657.1,469.4 L660.3,471.8 L663.9,461.5 L667.2,464.3 L670.4,468.7 L673.9,69.5 L677.0,181.8 L680.3,186.4 L683.9,149.2 L686.5,159.5 L693.8,66.7 L700.4,119.7 L703.8,163.5 L706.4,160.1 L709.8,201.5 L717.1,186.9 L723.7,189.8 L727.3,190.4 L732.9,207.6 L736.7,196.2 L739.8,220.0 L746.8,279.5 L749.9,287.8 L753.3,292.6 L756.4,293.0 L759.6,271.4 L762.9,270.4 L766.6,281.9 L769.4,283.4 L773.6,289.0 L776.4,289.7 L779.2,279.7 L782.6,302.0 L786.3,332.0 L788.9,427.4 L792.6,428.6 L799.6,390.3 L802.7,407.0 L806.1,411.4 L809.8,400.9 L812.5,413.8 L815.9,405.1 L819.6,408.3 L826.0,408.8 L829.6,389.4 L836.2,424.0 L839.4,437.5 L842.1,436.6 L845.8,430.5 L849.2,425.5 L852.7,429.5 L856.0,431.9 L859.7,429.5 L862.5,429.5 L865.6,431.0 L869.0,438.2 L871.7,465.1 L875.1,458.2 L878.6,454.5 L881.9,449.0 L885.1,434.7 L888.8,435.6 L892.5,444.0 L898.6,420.3 L902.3,410.7 L905.4,427.3 L908.7,421.2 L911.9,425.5 L915.2,432.7 L918.9,429.2 L921.7,432.3 L925.0,437.2 L932.0,410.2 L935.1,418.1 L938.4,407.6 L942.2,420.5 L945.0,389.6 L948.1,396.4 L951.8,409.0 L955.1,405.1 L962.2,414.9 L965.7,432.1 L975.5,455.1 L978.8,452.3 L981.6,450.6 L984.7,450.1 L988.4,438.6 L991.8,445.4 L995.3,449.5 L998.2,412.7 L1001.4,417.7 L1004.5,411.2 L1007.5,408.8 L1011.2,379.8 L1014.7,367.2 L1018.0,371.4 L1021.2,373.3 L1024.9,385.3 L1027.7,383.8 L1031.5,369.6 L1034.5,341.0 L1037.4,319.4 L1041.2,309.4 L1044.4,312.4 L1047.4,306.2 L1050.9,301.2 L1054.3,247.2 L1058.1,186.2 L1061.1,220.3 L1064.3,218.1 L1068.0,241.5 L1071.0,249.7 L1074.3,247.7 L1077.7,248.4 L1080.5,238.5 L1084.2,285.3 L1087.7,262.6 L1090.9,305.7 L1093.9,303.9 L1097.9,306.9 L1100.4,289.5 L1104.1,306.2 L1107.6,343.0 L1110.4,305.7 L1113.8,296.2 L1120.3,292.5 L1123.3,299.5 L1127.5,314.9 L1131.3,307.4 L1137.5,311.9 L1140.7,305.7 L1144.0,296.2 L1146.9,292.7 L1150.7,292.0 L1153.7,295.0 L1156.9,273.3 L1160.4,269.3 L1163.6,235.5 L1166.9,251.7 L1170.2,248.9 L1173.3,298.2 L1176.9,298.0 L1183.2,283.2 L1186.9,302.1 L1189.9,297.2 L1192.9,308.7 L1196.4,305.8 L1200.2,314.3 L1203.4,299.8 L1206.8,291.8 L1209.8,290.8 L1213.2,295.8 L1216.4,304.8 L1220.1,266.5 L1223.7,293.4 L1226.7,279.9 L1229.7,279.5 L1233.7,292.4 L1236.7,295.8 L1240.1,301.8 L1243.6,285.8 L1246.2,291.8 L1250.0,339.6 L1253.2,334.6 L1256.6,347.6 L1259.6,355.5 L1263.2,375.9 L1266.1,345.2 L1269.6,351.8 L1269.6,677.5 L0,677.5 Z" fill="url(#ag)"/>
<path d="M0.0,611.7 L4.1,604.0 L8.3,607.1 L11.7,613.6 L14.8,590.0 L17.9,589.0 L21.5,603.0 L25.7,616.0 L28.1,614.3 L30.6,620.5 L33.9,621.8 L38.1,609.8 L40.4,615.1 L43.8,610.8 L48.1,621.6 L51.3,615.7 L58.2,614.6 L63.9,608.0 L67.2,583.1 L71.0,578.8 L77.3,557.3 L80.6,567.6 L87.2,565.6 L91.0,574.7 L97.1,536.3 L100.8,547.0 L104.5,548.8 L107.3,523.9 L111.0,540.9 L114.1,531.6 L116.9,539.0 L120.2,536.3 L123.6,540.0 L126.7,535.9 L131.0,558.5 L134.1,545.1 L137.8,535.0 L140.6,539.2 L144.3,537.2 L147.4,538.3 L150.8,552.5 L153.9,559.6 L157.6,547.0 L160.4,554.5 L163.7,571.5 L169.6,569.9 L173.9,580.6 L177.2,584.7 L183.7,549.5 L187.2,568.0 L190.5,556.6 L193.3,557.3 L197.0,566.6 L199.8,552.9 L203.5,559.7 L206.8,556.0 L213.6,575.8 L222.9,575.8 L226.6,577.3 L229.9,569.9 L233.1,576.4 L236.4,576.9 L239.9,581.0 L243.2,588.8 L246.6,586.5 L252.9,564.3 L256.6,584.3 L259.9,584.3 L263.0,589.3 L266.4,581.0 L272.3,581.9 L276.2,596.3 L279.3,591.2 L282.5,573.2 L286.2,579.7 L289.9,566.2 L292.4,580.1 L296.2,469.0 L299.7,525.1 L303.0,498.5 L306.1,520.3 L310.0,499.2 L313.0,495.0 L319.6,414.4 L322.9,385.4 L326.1,397.4 L329.2,391.8 L332.9,424.2 L335.7,413.5 L339.0,439.4 L344.9,428.8 L349.2,432.0 L352.5,419.9 L356.0,429.2 L358.8,428.8 L362.7,414.4 L365.3,415.3 L369.2,429.6 L375.1,408.5 L378.8,411.6 L382.5,411.6 L385.8,422.3 L388.6,398.1 L392.3,444.0 L396.4,465.3 L398.8,494.3 L402.3,467.7 L408.4,480.4 L412.1,470.4 L415.8,479.1 L421.9,458.2 L426.0,460.6 L428.7,469.9 L431.9,475.4 L435.2,475.8 L441.7,480.1 L445.3,472.9 L452.0,493.2 L455.2,517.5 L461.3,515.6 L465.0,526.7 L468.7,515.6 L471.4,522.5 L478.5,519.3 L481.6,501.4 L485.3,494.3 L491.4,472.7 L494.9,471.8 L498.6,484.2 L504.7,475.3 L508.4,488.8 L511.2,488.4 L514.9,470.8 L518.1,467.9 L524.7,443.5 L528.0,410.4 L530.7,415.0 L534.4,427.8 L537.9,405.8 L540.9,413.2 L544.3,393.2 L548.0,424.3 L551.4,400.1 L554.2,413.8 L558.1,408.0 L561.4,391.1 L564.0,427.0 L567.5,411.2 L571.3,405.8 L574.1,412.3 L577.8,458.0 L580.8,458.7 L584.0,463.7 L587.6,458.7 L593.8,444.4 L597.1,443.4 L600.9,435.6 L604.0,441.8 L607.3,439.6 L611.0,450.1 L613.8,446.5 L617.4,458.7 L620.8,454.8 L623.6,475.0 L627.2,465.0 L630.7,466.1 L634.0,466.1 L637.3,453.3 L640.7,446.9 L644.0,450.1 L647.2,461.5 L650.7,478.7 L653.9,471.1 L657.1,469.4 L660.3,471.8 L663.9,461.5 L667.2,464.3 L670.4,468.7 L673.9,69.5 L677.0,181.8 L680.3,186.4 L683.9,149.2 L686.5,159.5 L693.8,66.7 L700.4,119.7 L703.8,163.5 L706.4,160.1 L709.8,201.5 L717.1,186.9 L723.7,189.8 L727.3,190.4 L732.9,207.6 L736.7,196.2 L739.8,220.0 L746.8,279.5 L749.9,287.8 L753.3,292.6 L756.4,293.0 L759.6,271.4 L762.9,270.4 L766.6,281.9 L769.4,283.4 L773.6,289.0 L776.4,289.7 L779.2,279.7 L782.6,302.0 L786.3,332.0 L788.9,427.4 L792.6,428.6 L799.6,390.3 L802.7,407.0 L806.1,411.4 L809.8,400.9 L812.5,413.8 L815.9,405.1 L819.6,408.3 L826.0,408.8 L829.6,389.4 L836.2,424.0 L839.4,437.5 L842.1,436.6 L845.8,430.5 L849.2,425.5 L852.7,429.5 L856.0,431.9 L859.7,429.5 L862.5,429.5 L865.6,431.0 L869.0,438.2 L871.7,465.1 L875.1,458.2 L878.6,454.5 L881.9,449.0 L885.1,434.7 L888.8,435.6 L892.5,444.0 L898.6,420.3 L902.3,410.7 L905.4,427.3 L908.7,421.2 L911.9,425.5 L915.2,432.7 L918.9,429.2 L921.7,432.3 L925.0,437.2 L932.0,410.2 L935.1,418.1 L938.4,407.6 L942.2,420.5 L945.0,389.6 L948.1,396.4 L951.8,409.0 L955.1,405.1 L962.2,414.9 L965.7,432.1 L975.5,455.1 L978.8,452.3 L981.6,450.6 L984.7,450.1 L988.4,438.6 L991.8,445.4 L995.3,449.5 L998.2,412.7 L1001.4,417.7 L1004.5,411.2 L1007.5,408.8 L1011.2,379.8 L1014.7,367.2 L1018.0,371.4 L1021.2,373.3 L1024.9,385.3 L1027.7,383.8 L1031.5,369.6 L1034.5,341.0 L1037.4,319.4 L1041.2,309.4 L1044.4,312.4 L1047.4,306.2 L1050.9,301.2 L1054.3,247.2 L1058.1,186.2 L1061.1,220.3 L1064.3,218.1 L1068.0,241.5 L1071.0,249.7 L1074.3,247.7 L1077.7,248.4 L1080.5,238.5 L1084.2,285.3 L1087.7,262.6 L1090.9,305.7 L1093.9,303.9 L1097.9,306.9 L1100.4,289.5 L1104.1,306.2 L1107.6,343.0 L1110.4,305.7 L1113.8,296.2 L1120.3,292.5 L1123.3,299.5 L1127.5,314.9 L1131.3,307.4 L1137.5,311.9 L1140.7,305.7 L1144.0,296.2 L1146.9,292.7 L1150.7,292.0 L1153.7,295.0 L1156.9,273.3 L1160.4,269.3 L1163.6,235.5 L1166.9,251.7 L1170.2,248.9 L1173.3,298.2 L1176.9,298.0 L1183.2,283.2 L1186.9,302.1 L1189.9,297.2 L1192.9,308.7 L1196.4,305.8 L1200.2,314.3 L1203.4,299.8 L1206.8,291.8 L1209.8,290.8 L1213.2,295.8 L1216.4,304.8 L1220.1,266.5 L1223.7,293.4 L1226.7,279.9 L1229.7,279.5 L1233.7,292.4 L1236.7,295.8 L1240.1,301.8 L1243.6,285.8 L1246.2,291.8 L1250.0,339.6 L1253.2,334.6 L1256.6,347.6 L1259.6,355.5 L1263.2,375.9 L1266.1,345.2 L1269.6,351.8" fill="none" stroke="#3454e4" stroke-width="1.7" stroke-linejoin="round" stroke-linecap="round"/>
<!-- current price dotted line -->
<line x1="0.3" y1="352.5" x2="1275" y2="352.5" stroke="#3a4a94" stroke-width="1" stroke-dasharray="1 1.67" opacity="0.9"/>
<circle cx="1269.6" cy="351.8" r="2.3" fill="#3454e4"/>

<!-- price axis labels -->
<g font-size="12" fill="#1e222d">
<text x="1282.6" y="35.4" textLength="43.7">0.85000</text>
<text x="1282.6" y="93.2" textLength="43.7">0.80000</text>
<text x="1282.6" y="150.9" textLength="43.7">0.75000</text>
<text x="1282.6" y="208.7" textLength="43.7">0.70000</text>
<text x="1282.6" y="266.5" textLength="43.7">0.65000</text>
<text x="1282.6" y="324.2" textLength="43.7">0.60000</text>
<text x="1282.6" y="382.0" textLength="43.7">0.55000</text>
<text x="1282.6" y="439.8" textLength="43.7">0.50000</text>
<text x="1282.6" y="497.6" textLength="43.7">0.45000</text>
<text x="1282.6" y="555.3" textLength="43.7">0.40000</text>
<text x="1282.6" y="613.1" textLength="43.7">0.35000</text>
</g>
<!-- time axis labels -->
<g font-size="11.6" fill="#1e222d">
<text x="34.6" y="695.5" text-anchor="middle" font-weight="bold" textLength="28.6">2023</text>
<text x="137.5" y="695.5" text-anchor="middle">Feb</text>
<text x="230.5" y="695.5" text-anchor="middle">Mar</text>
<text x="333" y="695.5" text-anchor="middle">Apr</text>
<text x="432.3" y="695.5" text-anchor="middle">May</text>
<text x="535" y="695.5" text-anchor="middle">Jun</text>
<text x="634.3" y="695.5" text-anchor="middle">Jul</text>
<text x="737" y="695.5" text-anchor="middle">Aug</text>
<text x="839.5" y="695.5" text-anchor="middle">Sep</text>
<text x="939" y="695.5" text-anchor="middle">Oct</text>
<text x="1041.5" y="695.5" text-anchor="middle">Nov</text>
<text x="1141" y="695.5" text-anchor="middle">Dec</text>
<text x="1243.7" y="695.5" text-anchor="middle" font-weight="bold" textLength="28.6">2024</text>
</g>

<!-- price label -->
<rect x="1275.2" y="345" width="59.6" height="27.4" rx="1.3" fill="#3354f4"/>
<text x="1282.6" y="357" font-size="12" fill="#dfe6ff" textLength="44" lengthAdjust="spacingAndGlyphs">0.57224</text>
<text x="1282.6" y="369.5" font-size="12" fill="#bccaff" textLength="47.2" lengthAdjust="spacingAndGlyphs">04:53:14</text>

<!-- volume label -->
<g>
<clipPath id="fo"><rect x="1260" y="650" width="15.3" height="30"/></clipPath>
<circle cx="1276" cy="666" r="9.1" fill="#fff" stroke="#e8424f" stroke-width="1.1" clip-path="url(#fo)"/>
<clipPath id="fc"><circle cx="1276" cy="666" r="7.4"/></clipPath>
<g clip-path="url(#fc)">
<rect x="1266" y="657" width="20" height="18" fill="#fff"/>
<rect x="1266" y="668.2" width="20" height="1.6" fill="#f26a72"/>
<rect x="1266" y="671.4" width="20" height="1.6" fill="#f26a72"/>
<rect x="1266" y="658" width="12" height="9.2" fill="#2f8fe8"/>
<rect x="1266" y="661" width="12" height="0.8" fill="#7fc0f5"/>
<rect x="1266" y="664" width="12" height="0.8" fill="#7fc0f5"/>
</g>
<rect x="1275.1" y="658" width="52.8" height="15.2" rx="2" fill="#f43c42"/>
<text x="1284.2" y="670" font-size="11.5" fill="#ffecec" textLength="38" lengthAdjust="spacingAndGlyphs">13.85M</text>
</g>

<!-- settings icon -->
<g fill="none" stroke="#3a3e48" stroke-width="1.05" stroke-linejoin="round">
<path d="M1307.7,684.7 L1314.3,684.7 L1317.6,690.5 L1314.3,696.3 L1307.7,696.3 L1304.4,690.5 Z"/>
<circle cx="1311" cy="690.5" r="2"/>
</g>

<!-- TV logo -->
<g>
<rect x="9" y="650" width="30.5" height="16.6" fill="#fff" opacity="0.92"/>
<path d="M11,652.2 H21.5 V664.9 H16.15 V656.9 H11 Z" fill="#131722"/>
<circle cx="26.1" cy="654.7" r="2.7" fill="#131722"/>
<path d="M32.1,652.2 H37.3 L31.9,664.9 H26.7 Z" fill="#131722"/>
</g>

<!-- green annotation -->
<g>
<circle cx="685" cy="67.1" r="19.6" fill="none" stroke="#417f1e" stroke-width="4.6"/>
<line x1="900" y1="58.5" x2="737" y2="62.7" stroke="#417f1e" stroke-width="4.2"/>
<path d="M714.9,62.8 L738.8,50.5 L738.8,74.2 Z" fill="#417f1e"/>
<text x="925.5" y="53.6" font-size="26" font-weight="bold" fill="#417f1e" stroke="#417f1e" stroke-width="0.8" stroke-linejoin="round" textLength="169" lengthAdjust="spacingAndGlyphs">Högst kurs:</text>
<text x="915.6" y="88.2" font-size="26" font-weight="bold" fill="#417f1e" stroke="#417f1e" stroke-width="0.8" stroke-linejoin="round" textLength="187.1" lengthAdjust="spacingAndGlyphs">0.81948 USD</text>
</g>

<!-- red annotation -->
<g>
<circle cx="42.2" cy="616.4" r="19.4" fill="none" stroke="#fa0c0c" stroke-width="5.3"/>
<line x1="132.5" y1="424.2" x2="57" y2="575.4" stroke="#fa0c0c" stroke-width="4.4"/>
<path d="M48.3,594.6 L48.3,567.6 L70.2,578.9 Z" fill="#fa0c0c"/>
<text x="107.7" y="374.1" font-size="26" font-weight="bold" fill="#fa0c0c" stroke="#fa0c0c" stroke-width="0.8" stroke-linejoin="round" textLength="159.5" lengthAdjust="spacingAndGlyphs">Lägst kurs:</text>
<text x="93.4" y="407.8" font-size="26" font-weight="bold" fill="#fa0c0c" stroke="#fa0c0c" stroke-width="0.8" stroke-linejoin="round" textLength="186" lengthAdjust="spacingAndGlyphs">0.36137 USD</text>
</g>

<!-- header -->
<g>
<circle cx="17" cy="12.95" r="7.9" fill="#17181c"/>
<path d="M12.9,8.4 L16.1,12 Q17,12.9 17.9,12 L21.1,8.4 M12.9,17.6 L16.1,14 Q17,13.1 17.9,14 L21.1,17.6" fill="none" stroke="#fff" stroke-width="1.1"/>
<text x="28.6" y="19" font-size="14" fill="#131722" textLength="217" lengthAdjust="spacingAndGlyphs">XRP / U.S. Dollar · 1D · BITSTAMP</text>
<circle cx="267.5" cy="13.7" r="7.5" fill="#d5efe9"/>
<circle cx="267.5" cy="13.7" r="3.6" fill="#0c9a7c"/>
<text x="289.7" y="18.3" font-size="13" fill="#4a5fd8" textLength="48">0.57224</text>
<text x="344.7" y="18.3" font-size="13" fill="#4a5fd8" textLength="109.3" lengthAdjust="spacingAndGlyphs">−0.00579 (−1.00%)</text>

<rect x="8.9" y="29.3" width="61.2" height="19" rx="3.5" fill="#fff" stroke="#e0294f" stroke-width="1"/>
<text x="15.2" y="43.4" font-size="13" fill="#e0294f" textLength="47.6">0.57236</text>
<text x="78.6" y="42.8" font-size="11" fill="#131722" textLength="40.3">0.00016</text>
<rect x="127.7" y="29.3" width="61.6" height="19" rx="3.5" fill="#fff" stroke="#3f52d6" stroke-width="1"/>
<text x="134.7" y="43.4" font-size="13" fill="#4a5fd8" textLength="47.3">0.57252</text>

<rect x="10" y="55.6" width="28.3" height="17.5" rx="3" fill="#fff" stroke="#dcdfe6" stroke-width="1"/>
<path d="M15.2,63.4 L18.4,66 L21.6,63.4" fill="none" stroke="#131722" stroke-width="1.2"/>
<text x="27.6" y="68.8" font-size="12.5" fill="#131722">1</text>

<rect x="1276" y="0" width="70" height="28.3" fill="#fff"/>
<rect x="1279.9" y="3.7" width="61.2" height="21.3" rx="3.5" fill="#fff" stroke="#e0e3eb" stroke-width="1"/>
<text x="1282.6" y="18.0" font-size="11.5" fill="#131722" textLength="22.2">USD</text>
<path d="M1332.9,13.6 L1334.9,15.4 L1336.9,13.6" fill="none" stroke="#131722" stroke-width="1.2"/>
</g>
</svg>
</body></html>
